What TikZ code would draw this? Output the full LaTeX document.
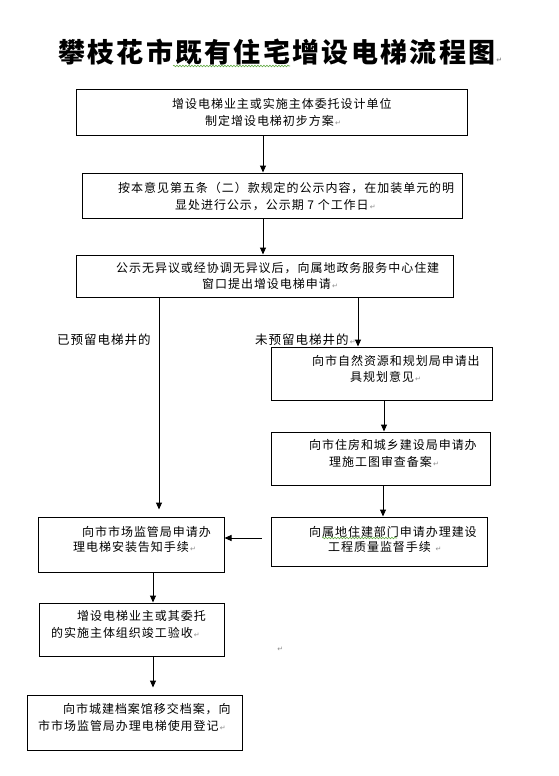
\documentclass[tikz,border=0pt]{standalone}
\usepackage{fontspec}
\newfontfamily\cjk{Noto Sans CJK SC}[LetterSpace=8]
\newfontfamily\cjktitle{Noto Sans CJK SC}[LetterSpace=8.5]
\newfontfamily\dvsans{DejaVu Sans}
\usetikzlibrary{arrows.meta,fit,decorations.pathmorphing}
\definecolor{retgray}{RGB}{140,140,140}
\definecolor{spellgreen}{RGB}{100,170,70}
\newcommand{\retmk}{{\dvsans\fontsize{7}{7}\selectfont\color{retgray}\,↵}}
\begin{document}
\begin{tikzpicture}[x=1pt,y=-1pt,
  box/.style={draw=black, line width=1pt, inner sep=0pt},
  txt/.style={anchor=west, inner sep=0pt, font=\cjk\fontsize{12}{14}\selectfont},
  lbl/.style={anchor=west, inner sep=0pt, font=\cjk\fontsize{12.5}{14}\selectfont},
  arr/.style={line width=1pt, -{Triangle[length=7pt,width=6pt]}},
  wavy/.style={draw=spellgreen, line width=0.6pt, decorate, decoration={snake, amplitude=0.8pt, segment length=3pt}}]
\useasboundingbox (0,0) rectangle (559,776);
\fill[white] (0,0) rectangle (559,776);

% title
\node[anchor=west, inner sep=0pt, font=\cjktitle\bfseries\fontsize{27}{30}\selectfont] (title) at (58,52) {攀枝花市既有住宅增设电梯流程图\retmk};
\draw[wavy] (173,66) -- (290,66);

% boxes
\node[box, fit={(76,89)(467,135)}] (b1) {};
\node[box, fit={(82,173)(462,218)}] (b2) {};
\node[box, fit={(76,255)(453,297)}] (b3) {};
\node[box, fit={(271,347)(492,400)}] (b4) {};
\node[box, fit={(271,432)(490,485)}] (b5) {};
\node[box, fit={(271,517)(487,566)}] (b6) {};
\node[box, fit={(38,517)(224,572)}] (b7) {};
\node[box, fit={(39,603)(224,656)}] (b8) {};
\node[box, fit={(27,695)(242,750)}] (b9) {};

% texts
\node[txt] (t1a) at (172,104) {增设电梯业主或实施主体委托设计单位};
\node[txt] (t1b) at (205,121) {制定增设电梯初步方案\retmk};
\node[txt] (t2a) at (118,188) {按本意见第五条（二）款规定的公示内容，在加装单元的明};
\node[txt] (t2b) at (175,205) {显处进行公示，公示期 7 个工作日\retmk};
\node[txt] (t3a) at (116,268) {公示无异议或经协调无异议后，向属地政务服务中心住建};
\node[txt] (t3b) at (202,284) {窗口提出增设电梯申请\retmk};
\node[lbl] (l1) at (57,340) {已预留电梯井的};
\node[lbl] (l2) at (255,340) {未预留电梯井的\retmk};
\node[txt] (t4a) at (312,361) {向市自然资源和规划局申请出};
\node[txt] (t4b) at (350,377) {具规划意见\retmk};
\node[txt] (t5a) at (309,445) {向市住房和城乡建设局申请办};
\node[txt] (t5b) at (329,462) {理施工图审查备案\retmk};
\node[txt] (t6a) at (309,532) {向属地住建部门申请办理建设};
\node[txt] (t6b) at (328,547) {工程质量监督手续 \retmk};
\draw[wavy] (322,538) -- (397,538);
\node[txt] (t7a) at (82,532) {向市市场监管局申请办};
\node[txt] (t7b) at (73,547) {理电梯安装告知手续\retmk};
\node[txt] (t8a) at (77,616) {增设电梯业主或其委托};
\node[txt] (t8b) at (51,633) {的实施主体组织竣工验收\retmk};
\node[txt] (t9a) at (63,709) {向市城建档案馆移交档案，向};
\node[txt] (t9b) at (38,726) {市市场监管局办理电梯使用登记\retmk};
\node[anchor=west, inner sep=0pt] (mk) at (276,649) {\retmk};

% connectors
\coordinate (xa) at (263,0);
\coordinate (xl) at (159,0);
\coordinate (xr) at (358,0);
\coordinate (xm) at (384,0);
\coordinate (xn) at (383,0);
\coordinate (xb) at (153,0);
\coordinate (ym) at (0,538);
\draw[arr] (b1.south -| xa) -- (b2.north -| xa);
\draw[arr] (b2.south -| xa) -- (b3.north -| xa);
\draw[arr, shorten >=7pt] (b3.south -| xl) -- (b7.north -| xl);
\draw[arr] (b3.south -| xr) -- (b4.north -| xr);
\draw[arr] (b4.south -| xm) -- (b5.north -| xm);
\draw[arr] (b5.south -| xn) -- (b6.north -| xn);
\draw[arr, shorten <=9pt] (b6.west |- ym) -- (b7.east |- ym);
\draw[arr] (b7.south -| xb) -- (b8.north -| xb);
\draw[arr, shorten >=7pt] (b8.south -| xb) -- (b9.north -| xb);
\end{tikzpicture}
\end{document}
